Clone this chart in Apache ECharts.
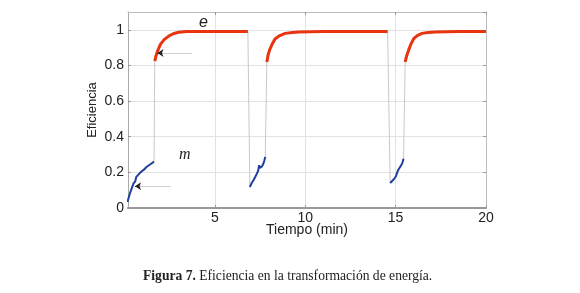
<!DOCTYPE html>
<html>
<head>
<meta charset="utf-8">
<script src="https://cdn.jsdelivr.net/npm/echarts@6/dist/echarts.min.js"></script>
<style>
  html, body { margin: 0; padding: 0; background: #fff; }
  #chart { width: 580px; height: 293px; }
</style>
</head>
<body>
<div id="chart"></div>
<script>
// tramos m (azul) y e (rojo), tiempo en min
const m1T = [0.17, 0.3, 0.5, 0.6, 0.66, 0.72, 0.8, 0.86, 0.94, 1.0, 1.08, 1.14, 1.22, 1.28, 1.36, 1.42, 1.5, 1.56, 1.64]
const m1E = [0.034, 0.08, 0.137, 0.15, 0.175, 0.17, 0.19, 0.185, 0.205, 0.2, 0.215, 0.21, 0.23, 0.225, 0.24, 0.235, 0.25, 0.245, 0.26]
const e1T = [1.68, 1.75, 1.85, 2.0, 2.2, 2.45, 2.7, 3.0, 3.45, 4.5, 6.83]
const e1E = [0.824, 0.855, 0.885, 0.92, 0.945, 0.965, 0.978, 0.986, 0.99, 0.99, 0.99]
const m2T = [6.94, 7.04, 7.14, 7.24, 7.33, 7.4, 7.45, 7.5, 7.56, 7.62, 7.69, 7.74, 7.79]
const m2E = [0.118, 0.14, 0.156, 0.175, 0.193, 0.21, 0.24, 0.225, 0.22, 0.235, 0.25, 0.265, 0.287]
const e2T = [7.88, 7.95, 8.06, 8.2, 8.34, 8.6, 8.89, 9.3, 9.63, 11, 14.56]
const e2E = [0.82, 0.86, 0.895, 0.925, 0.95, 0.968, 0.98, 0.985, 0.988, 0.99, 0.99]
const m3T = [14.7, 14.8, 14.89, 14.96, 15.02, 15.09, 15.16, 15.24, 15.31, 15.38, 15.44]
const m3E = [0.14, 0.15, 0.16, 0.165, 0.178, 0.2, 0.216, 0.225, 0.24, 0.255, 0.277]
const e3T = [15.53, 15.6, 15.72, 15.85, 16.0, 16.2, 16.46, 16.8, 17.2, 18.5, 20]
const e3E = [0.82, 0.85, 0.886, 0.92, 0.95, 0.968, 0.98, 0.985, 0.988, 0.99, 0.99]

// flechas de anotación
const arrowE = [[3.73, 0.87], [1.83, 0.87]]
const arrowM = [[2.57, 0.122], [0.59, 0.122]]

const xTicks = [5, 10, 15, 20]

function pairs(t, v) {
  return t.map((x, i) => [x, v[i]])
}

const mSegs = [pairs(m1T, m1E), pairs(m2T, m2E), pairs(m3T, m3E)]
const eSegs = [pairs(e1T, e1E), pairs(e2T, e2E), pairs(e3T, e3E)]
const fullPath = []
for (let i = 0; i < 3; i++) {
  fullPath.push(...mSegs[i], ...eSegs[i])
}

const font = 'Liberation Sans, Arial, sans-serif'
const series = [
  {
    type: 'line',
    data: fullPath,
    showSymbol: false,
    lineStyle: { color: '#c8c8c8', width: 1 },
    z: 1
  }
]
mSegs.forEach(function(d) {
  series.push({
    type: 'line', data: d, showSymbol: false,
    lineStyle: { color: '#1e3f9c', width: 2 }, z: 3
  })
})
eSegs.forEach(function(d) {
  series.push({
    type: 'line', data: d, showSymbol: false,
    lineStyle: { color: '#e8340f', width: 3 }, z: 3
  })
})
;[arrowE, arrowM].forEach(function(a) {
  series.push({
    type: 'lines', coordinateSystem: 'cartesian2d',
    data: [{ coords: a }],
    symbol: ['none', 'none'],
    lineStyle: { color: '#d0d0d0', width: 1, opacity: 1 }, z: 2
  })
  series.push({
    type: 'lines', coordinateSystem: 'cartesian2d',
    data: [{ coords: [[a[1][0] + 0.12, a[1][1]], a[1]] }],
    symbol: ['none', 'arrow'], symbolSize: 6,
    lineStyle: { color: '#222', width: 1, opacity: 1 }, z: 4
  })
})

const myChart = echarts.init(document.getElementById('chart'))
myChart.setOption({
  animation: false,
  grid: { left: 128, right: 94, top: 12, bottom: 85, show: false },
  xAxis: [
    {
      type: 'value',
      min: 0.2,
      max: 20,
      name: 'Tiempo (min)',
      nameLocation: 'middle',
      nameGap: 15,
      nameMoveOverlap: false,
      nameTextStyle: { fontFamily: font, fontSize: 14, color: '#222' },
      axisLine: { lineStyle: { color: '#999', width: 2 } },
      axisTick: { inside: true, length: 3, customValues: xTicks, lineStyle: { color: '#999' } },
      axisLabel: { customValues: xTicks, fontFamily: font, fontSize: 14, color: '#222', margin: 3 },
      splitLine: { show: true, lineStyle: { color: '#e2e2e2', width: 1 } }
    },
    {
      type: 'value',
      position: 'top',
      min: 0.2,
      max: 20,
      axisLine: { show: true, onZero: false, lineStyle: { color: '#bbb', width: 1 } },
      axisTick: { inside: true, length: 3, customValues: xTicks, lineStyle: { color: '#999' } },
      axisLabel: { show: false },
      splitLine: { show: false }
    }
  ],
  yAxis: [
    {
      type: 'value',
      min: 0,
      max: 1.1,
      interval: 0.2,
      name: 'Eficiencia',
      nameLocation: 'middle',
      nameGap: 29,
      nameMoveOverlap: false,
      nameTextStyle: { fontFamily: font, fontSize: 13, color: '#222' },
      axisLine: { show: true, lineStyle: { color: '#aaa', width: 1 } },
      axisTick: { show: true, inside: true, length: 3, lineStyle: { color: '#999' } },
      axisLabel: { fontFamily: font, fontSize: 14, color: '#222', margin: 4, showMaxLabel: false },
      splitLine: { show: true, lineStyle: { color: '#e2e2e2', width: 1 } }
    },
    {
      type: 'value',
      position: 'right',
      min: 0,
      max: 1.1,
      interval: 0.2,
      axisLine: { show: true, lineStyle: { color: '#bbb', width: 1 } },
      axisTick: { show: true, inside: true, length: 3, lineStyle: { color: '#999' } },
      axisLabel: { show: false },
      splitLine: { show: false }
    }
  ],
  graphic: [
    {
      type: 'text', left: 199, top: 15,
      style: { text: 'e', font: 'italic 16px "Liberation Sans", sans-serif', fill: '#222' }
    },
    {
      type: 'text', left: 179, top: 147,
      style: { text: 'm', font: 'italic 16px "Liberation Serif", serif', fill: '#222' }
    },
    {
      type: 'text', left: 143, top: 269,
      style: {
        text: '{b|Figura 7.} Eficiencia en la transformación de energía.',
        font: '13.6px "Liberation Serif", serif',
        fill: '#222',
        rich: {
          b: { fontWeight: 'bold', fontFamily: 'Liberation Serif', fontSize: 13.6, fill: '#222' }
        }
      }
    }
  ],
  series: series
})
window.addEventListener('resize', function() {
  myChart.resize()
})
</script>
</body>
</html>
